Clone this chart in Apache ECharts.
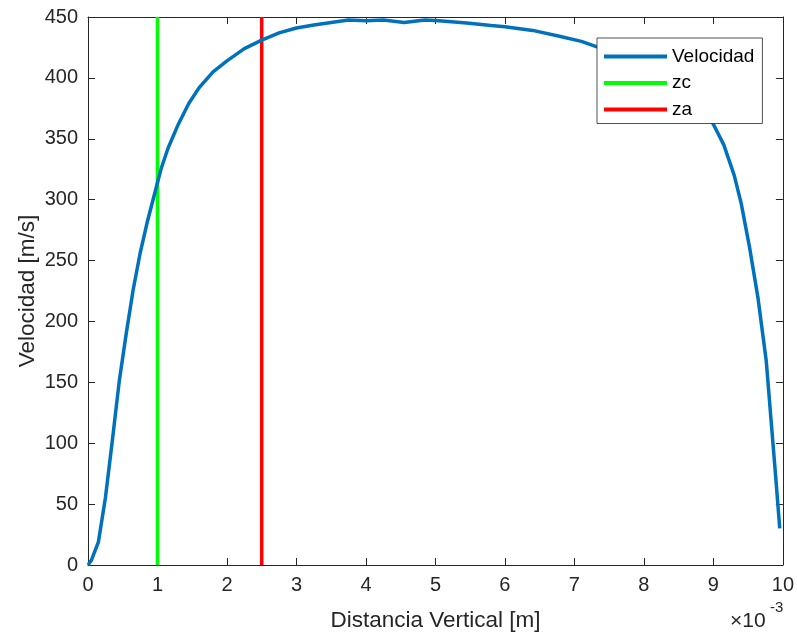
<!DOCTYPE html>
<html>
<head>
<meta charset="utf-8">
<script src="https://cdn.jsdelivr.net/npm/echarts@6/dist/echarts.min.js"></script>
<style>html,body{margin:0;padding:0;background:#fff}#c{width:797px;height:638px}</style>
</head>
<body>
<div id="c"></div>
<script>
// Distance (x10^-3 m) and velocity (m/s)
var distX = [0, 0.05, 0.15, 0.25, 0.35, 0.45, 0.55, 0.65, 0.75, 0.85, 0.95, 1.05, 1.15, 1.3, 1.45, 1.6, 1.8, 2.0, 2.25, 2.5, 2.75, 3.0, 3.25, 3.5, 3.75, 4.0, 4.25, 4.55, 4.85, 5.05, 5.45, 5.8, 6.0, 6.4, 6.8, 7.1, 7.5, 8.0, 8.5, 8.8, 9.0, 9.15, 9.3, 9.4, 9.52, 9.64, 9.76, 9.83, 9.9, 9.955];
var velY  = [0, 4, 19, 55, 102, 151, 190, 226, 256, 281, 303, 325, 342, 362, 379, 392, 405, 414, 424, 431, 437, 441, 443.5, 445.5, 447.5, 447, 447.5, 445.5, 447.5, 447, 445, 443, 442, 439, 434, 430, 422, 408, 389, 374, 362, 345, 320, 297, 261, 220, 168, 119, 70, 30];
var zcX = 1.0;
var zaX = 2.5;
var lineYRange = [0, 450];
var xTicks = [0,1,2,3,4,5,6,7,8,9,10];
var yTicks = [0,50,100,150,200,250,300,350,400,450];

var chart = echarts.init(document.getElementById('c'), null, {renderer: 'canvas'});
var FONT = 'Liberation Sans, Arial, Helvetica, sans-serif';
var AX = '#262626';

var velData = distX.map(function (x, i) { return [x, velY[i]]; });
var zcData = lineYRange.map(function (y) { return [zcX, y]; });
var zaData = lineYRange.map(function (y) { return [zaX, y]; });

var tickStyle = {show: true, inside: true, length: 7, lineStyle: {color: AX, width: 1}};

chart.setOption({
  animation: false,
  backgroundColor: '#fff',
  grid: {left: 88, right: 14, top: 17, bottom: 73, containLabel: false},
  xAxis: [{
    type: 'value', min: xTicks[0], max: xTicks[xTicks.length - 1], interval: 1,
    position: 'bottom',
    axisLine: {show: true, onZero: false, lineStyle: {color: AX, width: 1}},
    axisTick: tickStyle,
    splitLine: {show: false},
    axisLabel: {color: AX, fontSize: 20, fontFamily: FONT, margin: 10},
    name: 'Distancia Vertical [m]', nameLocation: 'middle', nameGap: 44,
    nameMoveOverlap: false,
    nameTextStyle: {color: AX, fontSize: 22.5, fontFamily: FONT}
  }, {
    type: 'value', min: xTicks[0], max: xTicks[xTicks.length - 1], interval: 1,
    position: 'top',
    axisLine: {show: true, onZero: false, lineStyle: {color: AX, width: 1}},
    axisTick: tickStyle, axisLabel: {show: false}, splitLine: {show: false}
  }],
  yAxis: [{
    type: 'value', min: yTicks[0], max: yTicks[yTicks.length - 1], interval: 50,
    position: 'left',
    axisLine: {show: true, onZero: false, lineStyle: {color: AX, width: 1}},
    axisTick: tickStyle,
    splitLine: {show: false},
    axisLabel: {color: AX, fontSize: 20, fontFamily: FONT, margin: 10},
    name: 'Velocidad [m/s]', nameLocation: 'middle', nameGap: 49, nameRotate: 90,
    nameMoveOverlap: false,
    nameTextStyle: {color: AX, fontSize: 22.5, fontFamily: FONT}
  }, {
    type: 'value', min: yTicks[0], max: yTicks[yTicks.length - 1], interval: 50,
    position: 'right',
    axisLine: {show: true, onZero: false, lineStyle: {color: AX, width: 1}},
    axisTick: tickStyle, axisLabel: {show: false}, splitLine: {show: false}
  }],
  legend: {
    show: true, type: 'plain',
    orient: 'vertical', left: 597, top: 38, right: 'auto', bottom: 'auto',
    backgroundColor: '#fff', borderColor: AX, borderWidth: 0.8, borderRadius: 0,
    padding: [8.5, 8, 4, 7],
    icon: 'rect',
    itemWidth: 63, itemHeight: 4, itemGap: 6.5,
    textStyle: {color: '#000', fontSize: 19, fontFamily: FONT, lineHeight: 20},
    data: ['Velocidad', 'zc', 'za']
  },
  graphic: [{
    type: 'text', left: 730, top: 611,
    style: {text: '×10', fontSize: 21, fontFamily: FONT, fill: AX}
  }, {
    type: 'text', left: 770, top: 600,
    style: {text: '-3', fontSize: 15, fontFamily: FONT, fill: AX}
  }],
  series: [{
    name: 'Velocidad', type: 'line', data: velData, showSymbol: false, symbol: 'none',
    lineStyle: {color: '#0072BD', width: 3.5}, itemStyle: {color: '#0072BD'}, z: 3
  }, {
    name: 'zc', type: 'line', data: zcData, showSymbol: false, symbol: 'none',
    lineStyle: {color: '#00FF00', width: 3.5}, itemStyle: {color: '#00FF00'}, z: 2
  }, {
    name: 'za', type: 'line', data: zaData, showSymbol: false, symbol: 'none',
    lineStyle: {color: '#FF0000', width: 3.5}, itemStyle: {color: '#FF0000'}, z: 2
  }]
});
</script>
</body>
</html>
